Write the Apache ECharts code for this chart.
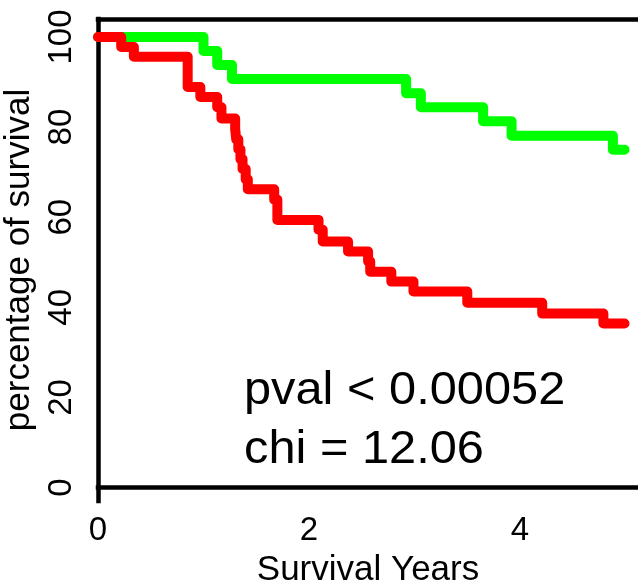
<!DOCTYPE html>
<html><head><meta charset="utf-8">
<script src="https://cdn.jsdelivr.net/npm/echarts@6/dist/echarts.min.js"></script>
<style>html,body{margin:0;padding:0;background:#fff;overflow:hidden}#c{width:638px;height:588px}</style>
</head><body><div id="c"></div>
<script>
// Kaplan-Meier steps (time in years, survival in %)
const greenTimes = [0, 1.00, 1.13, 1.27, 2.92, 3.06, 3.65, 3.92, 4.88, 4.99];
const greenSurv  = [100, 96.9, 93.8, 90.7, 87.5, 84.4, 81.3, 78.1, 75.0, 75.0];
const redTimes = [0, 0.22, 0.34, 0.85, 0.97, 1.13, 1.17, 1.30, 1.31, 1.33, 1.35, 1.37, 1.40, 1.42,
                  1.67, 1.70, 2.09, 2.13, 2.37, 2.56, 2.58, 2.78, 2.99, 3.50, 4.21, 4.79, 4.99];
const redSurv  = [100, 97.8, 95.6, 88.9, 86.7, 84.4, 81.9, 79.6, 77.3, 75.1, 72.9, 70.7, 68.4, 66.2,
                  63.9, 59.4, 57.2, 54.6, 52.4, 50.2, 47.9, 45.7, 43.5, 41.0, 38.6, 36.4, 36.4];
const xTicks = [0, 2, 4];
const yTicks = [0, 20, 40, 60, 80, 100];
const xTitle = 'Survival Years';
const yTitle = 'percentage of survival';
const pvalText = 'pval < 0.00052';
const chiText = 'chi = 12.06';

const FONT = '"Liberation Sans", Arial, Helvetica, sans-serif';
const chart = echarts.init(document.getElementById('c'), null, {renderer: 'canvas'});
const pairs = (xs, ys) => xs.map((x, i) => [x, ys[i]]);
const boxLine = {show: true, lineStyle: {color: '#000', width: 4.5, cap: 'square'}};

chart.setOption({
  animation: false,
  backgroundColor: '#fff',
  grid: {left: 98, top: 19, right: 0, bottom: 87, show: false, containLabel: false, outerBoundsMode: 'none'},
  xAxis: [{
    type: 'value', min: 0, max: 5.118, interval: 2, position: 'bottom',
    axisLine: boxLine, axisTick: {show: false}, splitLine: {show: false},
    axisLabel: {margin: 13, fontSize: 33, color: '#000', fontFamily: FONT,
      formatter: v => xTicks.includes(Math.round(v * 1000) / 1000) ? String(v) : ''},
    name: xTitle, nameLocation: 'middle', nameGap: 52,
    nameTextStyle: {fontSize: 35, color: '#000', fontFamily: FONT}
  }, {
    type: 'value', min: 0, max: 5.118, interval: 2, position: 'top',
    axisLine: boxLine, axisTick: {show: false}, splitLine: {show: false}, axisLabel: {show: false}
  }],
  yAxis: {
    type: 'value', min: -3, max: 104, splitNumber: 5,
    axisLine: boxLine, axisTick: {show: false}, splitLine: {show: false},
    axisLabel: {margin: 20, fontSize: 33, color: '#000', fontFamily: FONT, rotate: 90,
      formatter: v => yTicks.includes(Math.round(v * 1000) / 1000) ? String(v) : ''},
    name: yTitle, nameLocation: 'middle', nameGap: 51,
    nameTextStyle: {fontSize: 35, color: '#000', fontFamily: FONT}
  },
  series: [
    {type: 'line', step: 'end', data: pairs(greenTimes, greenSurv), symbol: 'none', clip: false,
     lineStyle: {color: '#00FF00', width: 10, cap: 'round', join: 'round'}},
    {type: 'line', step: 'end', data: pairs(redTimes, redSurv), symbol: 'none', clip: false,
     lineStyle: {color: '#FF0000', width: 10, cap: 'round', join: 'round'}}
  ],
  graphic: [
    {type: 'text', x: 244, y: 368, scaleX: 1.06, style: {text: pvalText, font: '46px ' + FONT, fill: '#000'}},
    {type: 'text', x: 244, y: 427, scaleX: 1.06, style: {text: chiText, font: '46px ' + FONT, fill: '#000'}}
  ]
});
</script>
</body></html>
